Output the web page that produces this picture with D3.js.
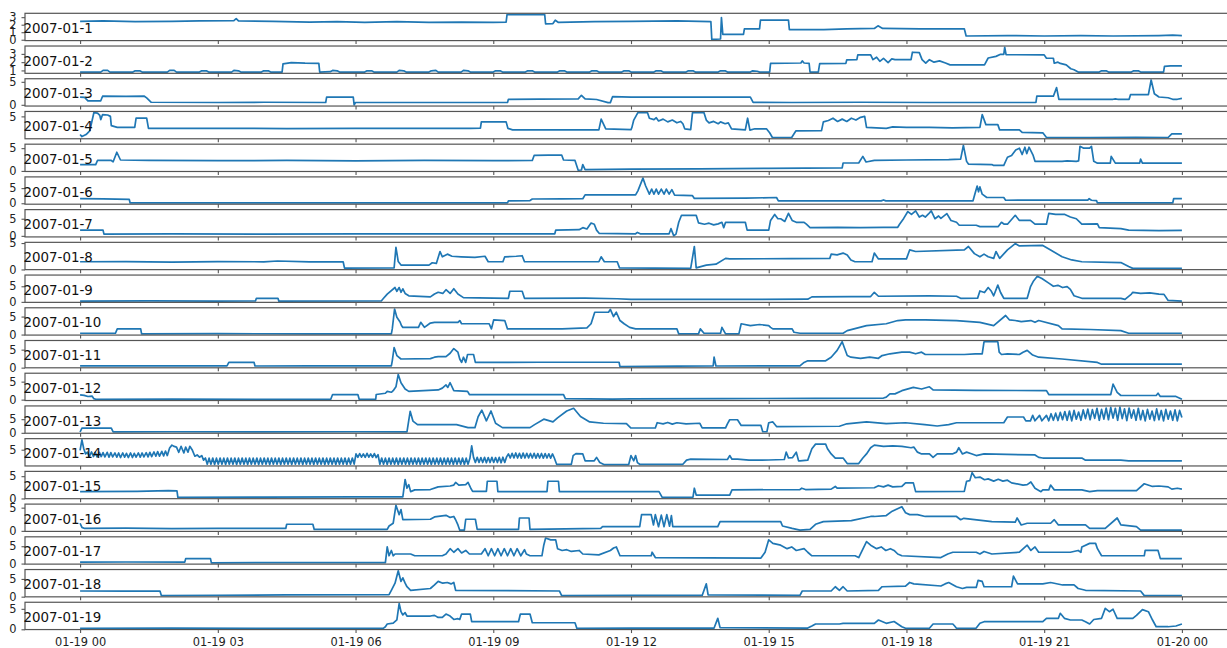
<!DOCTYPE html>
<html>
<head>
<meta charset="utf-8">
<script src="https://cdn.jsdelivr.net/npm/d3@7"></script>
<style>
  html, body { margin: 0; padding: 0; background: #fff; }
  svg { display: block; }
</style>
</head>
<body>
<svg id="chart" width="1227" height="648"></svg>
<script>
// Global active power (kW) for each day, as [hour of day, kW] readings.
const dayLabels = ["2007-01-1","2007-01-2","2007-01-3","2007-01-4","2007-01-5","2007-01-6","2007-01-7",
  "2007-01-8","2007-01-9","2007-01-10","2007-01-11","2007-01-12","2007-01-13","2007-01-14",
  "2007-01-15","2007-01-16","2007-01-17","2007-01-18","2007-01-19"];

const day01 = [[0,2.45],[0.5,2.5],[1.2,2.4],[2,2.45],[2.6,2.5],[3.35,2.55],[3.4,2.8],[3.45,2.5],[4.2,2.45],[5,2.35],[5.6,2.4],[6.2,2.3],[6.9,2.4],[7.6,2.3],[8.3,2.35],[9,2.3],[9.28,2.35],[9.3,3.35],[10.12,3.35],[10.14,2.1],[10.3,2.15],[10.35,2.6],[10.42,2.3],[11.2,2.4],[12,2.45],[13,2.5],[13.74,2.4],[13.76,0.05],[13.95,0.1],[13.97,2.95],[14,0.7],[14.45,0.7],[14.47,1.45],[14.8,1.45],[14.82,2.6],[15.43,2.6],[15.45,1.35],[16.2,1.35],[16.7,1.45],[17.3,1.5],[17.38,1.85],[17.48,1.5],[18.3,1.45],[19.26,1.45],[19.3,0.5],[20.2,0.55],[21,0.5],[21.8,0.55],[22.5,0.5],[23.5,0.55],[23.8,0.6],[24,0.55]];

const day02 = [[0,0.8],[0.45,0.8],[0.5,1],[0.6,1],[0.65,0.8],[1.15,0.8],[1.2,0.95],[1.3,0.95],[1.35,0.8],[1.9,0.8],[1.95,1],[2.05,1],[2.1,0.8],[2.6,0.8],[2.65,0.95],[2.75,0.95],[2.8,0.8],[3.3,0.8],[3.35,1],[3.45,0.95],[3.5,0.8],[3.95,0.8],[4,0.95],[4.1,0.95],[4.15,0.8],[4.4,0.8],[4.42,1.8],[4.6,1.95],[4.9,1.88],[5.2,1.85],[5.22,0.8],[5.45,0.85],[5.5,1],[5.6,0.95],[5.65,0.8],[6.2,0.8],[6.25,0.95],[6.35,0.95],[6.4,0.8],[6.9,0.8],[6.95,1],[7.05,0.95],[7.1,0.8],[7.6,0.8],[7.65,0.95],[7.75,1],[7.8,0.8],[8.3,0.8],[8.35,1],[8.45,0.95],[8.5,0.8],[9,0.8],[9.05,0.95],[9.15,0.95],[9.2,0.8],[9.7,0.8],[9.75,0.95],[9.85,0.95],[9.9,0.8],[10.4,0.8],[10.45,0.95],[10.55,0.95],[10.6,0.8],[11.1,0.8],[11.15,0.95],[11.25,0.95],[11.3,0.8],[11.8,0.8],[11.85,0.95],[11.95,0.95],[12,0.8],[12.5,0.8],[12.55,0.95],[12.65,0.95],[12.7,0.8],[13.2,0.8],[13.25,0.95],[13.35,0.95],[13.4,0.8],[13.9,0.8],[13.95,0.95],[14.05,0.95],[14.1,0.8],[14.6,0.8],[14.65,0.95],[14.75,0.9],[14.8,0.8],[15.02,0.8],[15.04,1.85],[15.7,1.9],[15.73,2.15],[15.77,1.9],[15.88,1.85],[15.9,0.8],[16.08,0.8],[16.11,1.82],[16.68,1.85],[16.7,2.28],[16.92,2.3],[16.94,2.88],[17.22,2.88],[17.27,2.3],[17.35,2.6],[17.42,2.1],[17.5,2.45],[17.6,1.95],[17.68,2.4],[17.75,2.3],[18.1,2.3],[18.13,3.2],[18.28,3.15],[18.34,2.3],[18.42,1.87],[18.5,2.3],[18.6,2],[18.72,2.15],[18.85,1.9],[18.95,1.67],[19.7,1.67],[19.78,2.5],[19.95,2.7],[20.05,2.95],[20.12,2.95],[20.14,3.8],[20.17,2.9],[21,2.88],[21.05,2.47],[21.2,2.47],[21.22,1.87],[21.3,2],[21.35,1.85],[21.48,1.67],[21.58,1.2],[21.65,1.08],[21.74,0.8],[22.2,0.8],[22.25,0.95],[22.35,0.95],[22.4,0.8],[22.9,0.8],[22.95,0.95],[23.05,0.95],[23.1,0.8],[23.6,0.8],[23.62,1.48],[23.75,1.56],[24,1.56]];

const day03 = [[0,1.66],[0.1,1.6],[0.17,0.87],[0.45,0.87],[0.49,1.87],[1,1.85],[1.4,1.87],[1.45,1.5],[1.55,0.55],[3,0.5],[4,0.55],[5.35,0.5],[5.37,1.66],[5.95,1.66],[5.97,0],[6,0.5],[7,0.5],[9.31,0.5],[9.33,1.2],[10,1.25],[10.85,1.3],[10.92,2.07],[11,1.3],[11.25,1.15],[11.5,0.47],[11.55,0.47],[11.6,1.8],[12,1.66],[14.6,1.66],[14.66,0.53],[15.5,0.5],[17,0.55],[18.5,0.5],[20.82,0.5],[20.84,1.87],[21.2,1.87],[21.27,3.73],[21.32,1.2],[22.5,1.2],[22.55,1.3],[22.6,1.2],[22.85,1.2],[22.88,2.2],[23.27,2.2],[23.33,5.4],[23.4,2.4],[23.5,1.7],[23.7,1.53],[23.8,1.2],[23.9,1.2],[24,1.4]];

const day04 = [[0,1.05],[0.04,0.6],[0.13,1.05],[0.21,1.83],[0.3,5.8],[0.38,5.7],[0.43,5.2],[0.45,4.3],[0.49,5.4],[0.6,5.3],[0.66,5],[0.68,3],[0.81,2.6],[1.19,2.6],[1.22,4.6],[1.45,4.6],[1.49,2.38],[3,2.4],[4.5,2.35],[6,2.4],[7.5,2.38],[8.5,2.4],[8.72,2.45],[8.74,3.8],[9.28,3.8],[9.32,2.38],[9.42,2.07],[10.5,2.05],[11.3,2.07],[11.35,4.4],[11.45,2.3],[12,2.1],[12.02,2.6],[12.06,4.2],[12.15,5.8],[12.36,5.8],[12.4,4.6],[12.5,4.3],[12.55,4.7],[12.6,4],[12.7,4.4],[12.8,3.8],[12.9,4.2],[13,3.6],[13.08,3.9],[13.13,3.4],[13.17,2.3],[13.3,2.1],[13.34,5.8],[13.59,5.8],[13.64,4.2],[13.7,3.6],[13.8,3.9],[13.9,3.4],[13.95,3.8],[14.05,3.4],[14.12,3.6],[14.19,2.3],[14.49,2.07],[14.54,4.6],[14.59,2],[14.7,2.3],[14.95,2.3],[15.02,1.43],[15.08,0.4],[15.5,0.4],[15.59,1.83],[16.15,1.9],[16.19,3.8],[16.3,4.1],[16.4,4.6],[16.5,3.9],[16.6,4.4],[16.7,3.9],[16.8,4.6],[16.9,4.2],[17,4.8],[17.09,5],[17.13,2.6],[17.56,2.4],[17.7,2.7],[18,2.6],[18.5,2.6],[19,2.5],[19.6,2.6],[19.65,5.4],[19.73,3.2],[19.99,3.2],[20.03,2.07],[20.46,2.07],[20.52,1.5],[20.97,1.43],[21.05,0.4],[22,0.4],[23,0.45],[23.7,0.4],[23.78,1.2],[24,1.2]];

const day05 = [[0,1.4],[0.34,1.4],[0.38,2.3],[0.68,2.3],[0.72,2],[0.8,4.1],[0.88,2.4],[1.5,2.3],[3,2.25],[4.5,2.3],[6,2.2],[7.5,2.3],[9,2.25],[9.85,2.3],[9.89,3.4],[10.2,3.45],[10.49,3.5],[10.53,2.4],[10.78,2.3],[10.85,0.15],[10.92,0.2],[10.95,1.4],[11,0.3],[12,0.4],[13.5,0.45],[15,0.55],[16.6,0.65],[16.62,1.74],[16.96,1.74],[17.05,3.2],[17.12,1.96],[17.3,2.3],[18,2.4],[18.92,2.5],[19.18,2.6],[19.24,5.6],[19.31,2.1],[19.35,1.5],[19.86,1.4],[19.9,1.2],[20.12,1.2],[20.2,3],[20.29,3.4],[20.38,4.6],[20.46,5],[20.52,3.6],[20.58,5.2],[20.62,3.8],[20.67,5.2],[20.76,3.4],[20.8,2.1],[21.39,2.1],[21.5,2.2],[21.7,2.1],[21.75,2.2],[21.78,5.4],[21.86,5],[21.99,5],[22.03,5.4],[22.08,2.1],[22.16,1.7],[22.44,1.7],[22.46,3.2],[22.55,1.7],[23.08,1.7],[23.1,2.6],[23.14,1.7],[24,1.7]];

const day06 = [[0,1.5],[0.5,1.45],[1.07,1.3],[1.09,0.1],[2,0.15],[4,0.1],[6,0.15],[8,0.1],[9.31,0.15],[9.33,0.77],[9.8,0.9],[9.85,1.4],[10.5,1.45],[10.95,1.5],[11,2.77],[12.1,2.75],[12.15,4.1],[12.26,8.3],[12.32,5.7],[12.4,3],[12.45,4.7],[12.5,3],[12.55,4.7],[12.6,3],[12.66,4.7],[12.72,3],[12.77,4.7],[12.83,3],[12.89,4.5],[12.95,2.7],[13.34,2.5],[13.38,1.6],[14.5,1.7],[15.17,1.9],[15.21,0.8],[17.45,0.8],[17.5,1.1],[17.55,0.8],[19.45,0.8],[19.48,2.5],[19.54,5.7],[19.57,3.8],[19.6,5.4],[19.65,3],[19.75,1.9],[20.12,1.9],[20.16,1],[21.95,1.05],[21.98,1.5],[22.03,1],[22.14,0.9],[22.16,0.1],[23.8,0.1],[23.82,1.5],[24,1.5]];

const day07 = [[0,1.66],[0.5,1.66],[0.52,0.5],[2,0.55],[4,0.5],[6,0.6],[8,0.55],[10.34,0.6],[10.36,1.66],[10.87,1.8],[10.95,2.4],[11.04,2],[11.13,3.75],[11.2,3.4],[11.25,1.66],[11.31,0.7],[12.1,0.6],[12.14,1],[12.2,0.6],[12.83,0.6],[12.87,2.1],[12.93,0.05],[12.98,0.5],[13.04,3.96],[13.1,6],[13.42,6],[13.47,3.8],[13.6,3.4],[13.7,3.7],[13.8,3.2],[13.9,3.5],[13.98,3.96],[14.02,2.4],[14.06,3.96],[14.49,3.96],[14.53,1.66],[15,1.66],[15.04,4.5],[15.13,6.25],[15.2,5],[15.26,5],[15.35,4.2],[15.43,6.56],[15.51,4.5],[15.6,3.96],[15.77,3.96],[15.82,3.4],[15.9,2.4],[16.5,2.5],[17,2.4],[17.5,2.5],[17.81,2.5],[17.85,3.4],[17.94,5.1],[18.03,7.1],[18.11,6.25],[18.2,7.3],[18.28,5.5],[18.35,6],[18.41,5.5],[18.48,6.4],[18.54,7.3],[18.62,5],[18.7,5.8],[18.75,5.1],[18.88,6.5],[18.97,4.5],[19.09,3.96],[19.15,3.1],[19.52,3.1],[19.6,2.7],[20,2.7],[20.07,3.96],[20.13,3.4],[20.2,3.4],[20.37,6],[20.46,4.5],[20.7,4.5],[20.8,3.4],[21.05,3.4],[21.1,6.56],[21.25,6.25],[21.45,6.25],[21.57,5.5],[21.7,5],[21.82,3.4],[22.16,3.5],[22.2,2.4],[22.67,2.1],[22.84,1.66],[23.5,1.55],[24,1.6]];

const day08 = [[0,1.46],[1,1.5],[2,1.4],[3,1.5],[4,1.45],[4.3,1.6],[5,1.45],[5.73,1.46],[5.76,0.25],[6.84,0.28],[6.88,4.2],[6.93,1.5],[6.99,0.83],[7.6,0.83],[7.67,1.27],[7.76,1.15],[7.84,3.4],[7.89,2.4],[8,2.9],[8.1,2.5],[8.3,2.4],[8.6,2.3],[8.82,2.5],[8.89,1.46],[9.21,1.46],[9.25,2.4],[9.5,2.5],[9.63,2.6],[9.68,1.46],[11.3,1.46],[11.35,2.4],[11.42,1.46],[11.7,1.46],[11.75,0.3],[13.3,0.22],[13.38,4.35],[13.42,0.3],[13.64,0.83],[13.85,1],[14.06,2.1],[14.15,2],[15.5,2.05],[16.33,2.1],[16.36,2.9],[16.49,2.75],[16.62,3.1],[16.71,2.75],[16.79,1.8],[16.88,1.46],[17.25,1.46],[17.3,3.1],[17.39,2],[18,2],[18.07,3.7],[18.2,3.4],[19.26,3.7],[19.35,4.35],[19.48,3],[19.6,2.4],[19.69,2.9],[19.78,2.4],[19.9,2.1],[19.95,3.4],[20.03,2.1],[20.2,3.7],[20.37,4.9],[20.46,4.45],[20.97,4.55],[21.14,3.7],[21.39,2.4],[21.6,1.8],[21.82,1.46],[22.67,1.3],[22.84,0.55],[22.93,0.2],[24,0.22]];

const day09 = [[0,0.24],[1.5,0.3],[3,0.24],[3.82,0.3],[3.84,1.15],[4.31,1.15],[4.33,0.24],[6.56,0.3],[6.61,1.15],[6.69,2.5],[6.86,4.6],[6.9,3.4],[6.95,4.6],[6.99,3.07],[7.03,4.2],[7.08,2.7],[7.16,1.95],[7.63,1.6],[7.72,2.5],[7.8,3.07],[7.9,2.7],[7.97,3.9],[8.06,2.7],[8.14,4.2],[8.23,2.5],[8.35,1.37],[9.33,1.15],[9.36,3.4],[9.63,3.4],[9.68,1.15],[11,1.2],[11.7,1],[12,0.8],[14,0.8],[15.85,0.85],[15.94,1.6],[16.8,1.65],[17.22,1.7],[17.3,3.07],[17.39,1.8],[18.5,1.9],[19.09,1.8],[19.18,1.15],[19.55,1.2],[19.6,3.5],[19.7,3],[19.78,4.6],[19.85,3.4],[19.9,1.95],[19.99,5.36],[20.05,3],[20.12,1.15],[20.63,1.15],[20.7,4.8],[20.76,6.5],[20.85,8.2],[20.95,7.5],[21.1,6],[21.2,5],[21.3,5.3],[21.4,4.6],[21.5,4.9],[21.57,4],[21.65,1.95],[21.82,1.15],[22.67,1.1],[22.76,0.8],[22.9,2.5],[22.93,3.07],[23.1,2.7],[23.3,2.9],[23.5,2.5],[23.61,2.4],[23.7,0.47],[24,0.24]];

const day10 = [[0,0.37],[0.77,0.37],[0.81,1.57],[1.32,1.57],[1.34,0.2],[3,0.25],[5,0.2],[6.78,0.2],[6.8,1.57],[6.85,7.1],[6.9,4.8],[6.97,3.5],[7,2.5],[7.03,2],[7.37,2],[7.42,3.4],[7.5,2],[7.63,3.2],[7.72,3.4],[8.23,3.4],[8.27,3.9],[8.31,3],[8.91,3],[8.96,1.57],[9.01,4.1],[9.25,3.9],[9.31,1.57],[10.5,1.6],[11.04,1.85],[11.13,3],[11.21,6.2],[11.51,6.2],[11.55,7],[11.62,5],[11.68,6.2],[11.76,3.9],[11.85,3],[11.97,2],[12.1,1.57],[13,1.57],[13.04,0.2],[13.47,0.2],[13.51,1.57],[13.59,0.37],[13.95,0.37],[13.98,2],[14.06,0.2],[14.35,0.2],[14.4,3],[14.6,2.5],[14.8,2.8],[15,2.5],[15.04,2],[15.09,1.57],[15.51,1.57],[15.55,0.65],[15.68,0.37],[16.62,0.37],[16.71,1.1],[17.13,2.5],[17.56,3],[17.81,3.9],[17.98,4.1],[18.41,4.1],[19.09,3.9],[19.6,3.4],[19.9,2.5],[20.16,5.3],[20.24,4.1],[20.37,3.9],[20.5,3.6],[20.71,3.9],[20.8,3.4],[20.88,3.9],[21.31,2.5],[21.39,1.57],[22,1.4],[22.67,1.1],[22.84,0.37],[24,0.37]];

const day11 = [[0,0.5],[1.5,0.5],[3.2,0.5],[3.24,1.45],[3.79,1.45],[3.81,0.45],[5,0.5],[6.78,0.5],[6.8,1.9],[6.84,5.6],[6.9,3.36],[6.99,2.4],[7.63,2.5],[7.72,2.9],[7.8,3.07],[7.97,3.07],[8.06,4],[8.14,5.3],[8.23,4.3],[8.27,2.4],[8.31,1.45],[8.35,2.9],[8.4,1.45],[8.44,3.65],[8.57,3.65],[8.61,1.45],[10,1.5],[11.74,1.5],[11.76,0.3],[13,0.4],[13.79,0.45],[13.81,2.9],[13.85,0.45],[15.68,0.5],[15.77,1.45],[15.85,1.9],[16.24,1.9],[16.36,2.9],[16.49,4.8],[16.6,7.2],[16.71,3.36],[16.79,2.9],[17,2.6],[17.2,2.9],[17.39,2.6],[17.47,3.36],[17.64,3.85],[17.9,4.3],[18.07,4.3],[18.2,3.85],[18.33,4.3],[18.41,3.65],[19.26,3.65],[19.5,3.8],[19.65,3.85],[19.69,7.2],[19.99,7.2],[20.02,4.3],[20.07,3.65],[20.2,3.85],[20.46,3.65],[20.54,4.3],[20.63,4.8],[20.75,3.5],[20.88,2.9],[21.39,2.4],[22.16,1.45],[22.25,0.96],[24,0.96]];

const day12 = [[0,1.34],[0.09,1.2],[0.17,0.88],[0.26,1],[0.3,0.27],[0.34,0.1],[2,0.12],[4,0.1],[5.46,0.12],[5.5,1.42],[6.05,1.42],[6.08,0.1],[6.44,0.1],[6.45,1.42],[6.65,1.78],[6.69,2.3],[6.78,2.05],[6.82,2.5],[6.88,3.57],[6.93,7],[6.99,4.7],[7.08,2.95],[7.16,2.3],[7.8,2.7],[7.89,3.2],[7.97,4.1],[8.01,3.4],[8.06,4.7],[8.14,2.5],[8.44,2.3],[8.48,1.42],[10.53,1.42],[10.57,0.27],[11.6,0.15],[12,0.2],[14,0.3],[16,0.35],[17.5,0.44],[17.56,0.7],[17.64,1.6],[17.75,1.6],[17.9,2.5],[18.15,3.4],[18.33,2.95],[18.5,3.57],[18.58,2.7],[19.5,2.6],[21.05,2.5],[21.1,1.42],[22.45,1.42],[22.5,4.3],[22.59,2.05],[22.67,1.15],[23.44,1.15],[23.48,1.78],[23.53,0.88],[23.87,0.88],[24,0.1]];

const day13 = [[0,0.3],[0.04,1.7],[0.68,1.7],[0.72,0.35],[2,0.4],[4,0.35],[6,0.4],[7.12,0.35],[7.19,7.9],[7.25,4.3],[7.35,3],[8.2,3],[8.45,1.9],[8.6,1.9],[8.67,5.9],[8.75,8.3],[8.85,4.4],[8.95,8],[9.05,3.5],[9.2,1.9],[9.8,1.9],[9.9,3],[10.1,5],[10.3,4],[10.4,5.5],[10.6,8],[10.75,9],[10.9,6],[11.1,4],[11.4,3.5],[11.9,3.4],[12,1.76],[12.53,1.76],[12.57,3.7],[12.7,3.3],[12.8,3.8],[12.9,3.2],[13,3.7],[13.2,3.3],[13.5,3.5],[13.55,1.8],[14.06,1.8],[14.1,3.3],[14.15,4.8],[14.32,4.8],[14.4,2.7],[14.83,2.7],[14.87,0.4],[14.96,0.4],[15,3.7],[15.09,4],[15.17,2.3],[16.54,2.4],[16.7,3.3],[17.13,4],[17.56,3.4],[17.98,3.7],[18.4,3],[18.67,2.5],[18.92,3],[19.09,3.7],[20.12,3.7],[20.2,5.8],[20.55,5.8],[20.6,4.4],[20.7,4.4],[20.75,6.4],[20.8,4.4],[20.9,6.4],[20.95,4.4],[21.05,6.4],[21.1,4.4],[21.15,7],[21.2,4.6],[21.25,7.2],[21.3,4.5],[21.35,7.5],[21.4,4.8],[21.45,7.8],[21.5,4.6],[21.55,8],[21.6,4.4],[21.65,8.2],[21.7,5],[21.75,7.6],[21.8,4.6],[21.85,8.4],[21.9,5.2],[21.95,8.7],[22,4.8],[22.05,8.5],[22.1,5.3],[22.15,9],[22.2,4.6],[22.25,8.6],[22.3,5],[22.35,9.1],[22.4,4.8],[22.45,9.3],[22.5,5.4],[22.55,9],[22.6,4.6],[22.65,9.4],[22.7,5.2],[22.75,8.8],[22.8,4.5],[22.85,9.1],[22.9,5.4],[22.95,8.4],[23,4.6],[23.05,9],[23.1,4.8],[23.15,8.2],[23.2,4.4],[23.25,8.6],[23.3,5],[23.35,8],[23.4,4.5],[23.45,8.8],[23.5,4.8],[23.55,8.2],[23.6,4.4],[23.65,8.6],[23.7,5],[23.75,8],[23.8,4.6],[23.85,8.4],[23.9,4.4],[23.95,8.2],[24,5.6]];

const day14 = [[0,4.8],[0.04,8],[0.08,5.3],[0.12,3.7],[0.16,4.25],[0.2,2.9],[0.25,4.3],[0.29,2.9],[0.33,4.2],[0.37,2.8],[0.42,4.2],[0.46,2.9],[0.5,4.1],[0.54,2.8],[0.59,4.2],[0.63,2.7],[0.67,4.1],[0.71,2.8],[0.76,4],[0.8,2.7],[0.84,4],[0.88,2.6],[0.93,4],[0.97,2.7],[1.01,3.9],[1.05,2.6],[1.1,4],[1.14,2.6],[1.18,3.9],[1.22,2.7],[1.27,4],[1.31,2.7],[1.35,4],[1.39,2.8],[1.44,4.1],[1.48,2.8],[1.52,4.2],[1.56,2.9],[1.61,4.3],[1.65,3],[1.69,4.4],[1.73,3],[1.78,4.5],[1.82,3.1],[1.86,4.6],[1.9,3.2],[1.95,5.5],[2,6.4],[2.05,6],[2.1,5.8],[2.15,4.2],[2.2,6.05],[2.26,4],[2.3,5.8],[2.35,4.25],[2.39,6.05],[2.44,5],[2.5,3],[2.55,3.4],[2.6,2.7],[2.65,3.2],[2.69,1.8],
  [2.73,2.45],[2.77,0.55],[2.81,2.4],[2.85,0.55],[2.89,2.45],[2.93,0.5],[2.97,2.4],[3.01,0.55],[3.05,2.45],[3.09,0.55],[3.13,2.4],[3.17,0.5],[3.21,2.45],[3.25,0.55],[3.29,2.4],[3.33,0.55],[3.37,2.45],[3.41,0.5],[3.45,2.4],[3.49,0.55],[3.53,2.45],[3.57,0.55],[3.61,2.4],[3.65,0.5],[3.69,2.45],[3.73,0.55],[3.77,2.4],[3.81,0.55],[3.85,2.45],[3.89,0.5],[3.93,2.4],[3.97,0.55],[4.01,2.45],[4.05,0.55],[4.09,2.4],[4.13,0.5],[4.17,2.45],[4.21,0.55],[4.25,2.4],[4.29,0.55],[4.33,2.45],[4.37,0.5],[4.41,2.4],[4.45,0.55],[4.49,2.45],[4.53,0.55],[4.57,2.4],[4.61,0.5],[4.65,2.45],[4.69,0.55],[4.73,2.4],[4.77,0.55],[4.81,2.45],[4.85,0.5],[4.89,2.4],[4.93,0.55],[4.97,2.45],[5.01,0.55],[5.05,2.4],[5.09,0.5],[5.13,2.45],[5.17,0.55],[5.21,2.4],[5.25,0.55],[5.29,2.45],[5.33,0.5],[5.37,2.4],[5.41,0.55],[5.45,2.45],[5.49,0.55],[5.53,2.4],[5.57,0.5],[5.61,2.45],[5.65,0.55],[5.69,2.4],[5.73,0.55],[5.77,2.45],[5.81,0.5],[5.85,2.4],[5.89,0.55],[5.93,2.45],[5.97,0.6],
  [6.01,3.7],[6.05,2.65],[6.09,3.8],[6.13,2.7],[6.17,3.7],[6.21,2.65],[6.25,3.9],[6.29,2.7],[6.33,3.7],[6.37,2.65],[6.41,3.8],[6.45,2.6],[6.49,3.5],
  [6.53,0.55],[6.57,2.45],[6.61,0.55],[6.65,2.4],[6.69,0.5],[6.73,2.45],[6.77,0.55],[6.81,2.4],[6.85,0.55],[6.89,2.45],[6.93,0.5],[6.97,2.4],[7.01,0.55],[7.05,2.45],[7.09,0.55],[7.13,2.4],[7.17,0.5],[7.21,2.45],[7.25,0.55],[7.29,2.4],[7.33,0.55],[7.37,2.45],[7.41,0.5],[7.45,2.4],[7.49,0.55],[7.53,2.45],[7.57,0.55],[7.61,2.4],[7.65,0.5],[7.69,2.45],[7.73,0.55],[7.77,2.4],[7.81,0.55],[7.85,2.45],[7.89,0.5],[7.93,2.4],[7.97,0.55],[8.01,2.45],[8.05,0.55],[8.09,2.4],[8.13,0.5],[8.17,2.45],[8.21,0.55],[8.25,2.4],[8.29,0.55],[8.33,2.45],[8.37,0.5],[8.41,2.4],[8.45,0.55],[8.49,2.3],[8.53,6.2],[8.57,2.65],
  [8.61,1.06],[8.65,2.65],[8.69,1.1],[8.73,2.6],[8.77,1.06],[8.81,2.65],[8.85,1],[8.89,2.6],[8.93,1.06],[8.97,2.65],[9.01,1.1],[9.05,2.6],[9.09,1.06],[9.13,2.65],[9.17,1],[9.21,2.7],[9.25,1.1],[9.29,2.8],[9.33,3.7],
  [9.37,2.45],[9.41,3.9],[9.45,2.5],[9.49,4],[9.53,2.45],[9.57,3.9],[9.61,2.4],[9.65,3.95],[9.69,2.45],[9.73,3.9],[9.77,2.5],[9.81,3.85],[9.85,2.45],[9.89,3.9],[9.93,2.4],[9.97,3.8],[10.01,2.45],[10.05,3.85],[10.09,2.4],[10.13,3.8],[10.17,2.45],[10.21,3.75],[10.25,2.4],[10.29,3.7],[10.33,2.45],
  [10.38,0.53],[10.7,0.5],[10.74,3.2],[10.8,3.8],[10.95,3.7],[11,1.6],[11.2,1.6],[11.25,2.65],[11.32,1.06],[11.42,0.4],[11.95,0.45],[12,3.2],[12.06,1.6],[12.1,3.2],[12.14,1.06],[12.19,0.53],[13.13,0.53],[13.21,1.8],[13.3,2.1],[14.1,2],[14.15,3.2],[14.2,2.1],[14.32,2.1],[14.57,1.8],[14.66,1.8],[15,1.85],[15.34,2],[15.38,4.25],[15.43,2.5],[15.52,2.6],[15.6,4.25],[15.65,1.6],[15.68,1.6],[15.85,1.8],[15.94,5.3],[16.02,6.7],[16.24,6.7],[16.28,5.3],[16.36,3.7],[16.45,2.45],[16.62,2.45],[16.71,0.74],[16.96,0.74],[17.05,2.45],[17.13,3.7],[17.22,5.6],[17.3,6.4],[17.5,6],[17.7,6.2],[17.9,6],[18.1,5.6],[18.16,5.8],[18.24,4.25],[18.33,3.7],[18.5,3.7],[18.58,2.65],[18.67,3.7],[19,3.7],[19.09,4.25],[19.14,5.6],[19.22,3.7],[19.31,4.25],[19.43,3.7],[19.52,3.2],[19.69,3.7],[20.8,3.4],[20.88,2.65],[20.97,2.45],[21.82,2.45],[21.9,1.8],[22.67,1.8],[22.84,1.6],[24,1.6]];

const day15 = [[0,1.53],[1.24,1.6],[1.92,1.77],[2.11,1.7],[2.13,0.23],[4,0.3],[6,0.35],[7.03,0.37],[7.08,4.26],[7.12,2.3],[7.16,3.1],[7.2,1.53],[7.29,1.93],[7.63,2],[7.8,2.6],[8.06,2.8],[8.14,3],[8.18,3.6],[8.25,3],[8.4,3.1],[8.45,3.6],[8.51,2.3],[8.55,1.6],[8.85,1.6],[8.87,3.86],[9.08,3.86],[9.1,1.53],[10.17,1.53],[10.19,3.86],[10.42,3.86],[10.44,1.53],[12.61,1.53],[12.68,0.23],[13.35,0.3],[13.38,2.3],[13.42,0.77],[14.15,0.77],[14.2,1.93],[15.68,2],[15.72,2.3],[15.8,2],[16.36,2.1],[16.45,2.7],[16.49,2.3],[17.3,2.4],[17.39,2.86],[17.5,2.6],[17.6,3],[17.7,2.6],[17.9,2.7],[17.98,3.5],[18.15,3.5],[18.2,1.53],[19.26,1.6],[19.31,3.86],[19.38,4],[19.43,5.8],[19.5,4.65],[19.6,4.8],[19.7,4.2],[19.78,4.4],[19.9,3.9],[20,4.3],[20.1,3.9],[20.2,4.1],[20.29,3.5],[20.54,3],[20.63,3.1],[20.71,3.7],[20.8,2.3],[20.93,1.53],[20.97,1.93],[21.1,1.93],[21.14,3],[21.22,1.93],[21.82,1.93],[21.99,1.53],[22.16,1.77],[23.01,1.77],[23.18,3.3],[23.36,2.7],[23.5,2.8],[23.7,2.6],[23.78,2.1],[23.9,2.3],[24,2.1]];

const day16 = [[0,1.64],[0.04,0.75],[0.1,0.52],[1,0.6],[2,0.5],[3,0.55],[4.48,0.52],[4.5,1.42],[5.07,1.42],[5.1,0.3],[6.69,0.3],[6.73,1.05],[6.82,1.64],[6.88,5.5],[6.95,3.5],[6.99,4.6],[7.03,2.4],[7.63,2.5],[7.72,3],[7.97,3.35],[8.06,2.9],[8.14,3.1],[8.18,2.4],[8.23,1.27],[8.27,0.15],[8.37,0.15],[8.4,2.5],[8.61,2.5],[8.65,0.3],[9.55,0.3],[9.57,2.77],[9.78,2.77],[9.8,0.3],[11.34,0.52],[11.38,0.9],[12.19,0.9],[12.23,3.5],[12.44,3.5],[12.49,1.27],[12.53,3.5],[12.6,0.9],[12.66,3.4],[12.72,0.9],[12.78,3.5],[12.84,1],[12.88,3.3],[12.91,0.9],[13.89,0.9],[13.94,2],[15.26,2],[15.3,1.05],[15.51,0.52],[15.68,0.15],[15.9,0.3],[16.02,1.42],[16.19,2],[16.8,2.2],[17.22,3.1],[17.3,3.1],[17.56,3.3],[17.69,4.24],[17.9,5.2],[17.98,3.9],[18.07,3.5],[18.24,3.5],[18.41,3.1],[19.09,3.1],[19.18,2.4],[19.25,2.7],[19.86,2],[20.37,1.9],[20.41,2.77],[20.5,1.27],[20.63,1.64],[21.14,1.64],[21.22,2.4],[21.31,1.27],[21.9,1.27],[21.99,0.52],[22.33,0.52],[22.59,2.77],[22.67,1.27],[23.01,0.9],[23.1,0.15],[24,0.15]];

const day17 = [[0,0.41],[1,0.45],[2.28,0.41],[2.3,1.43],[2.84,1.43],[2.86,0.2],[4,0.3],[5.5,0.25],[6.65,0.3],[6.69,4.8],[6.73,2.25],[6.78,3.78],[6.82,2.25],[6.86,2.76],[7.2,2.76],[7.29,2.25],[7.89,2.25],[7.97,2.76],[8.06,4.3],[8.14,3.27],[8.23,4.3],[8.31,3.07],[8.4,3.78],[8.48,2.76],[8.74,2.76],[8.82,4.3],[8.89,2.25],[8.96,4.3],[9.03,2.25],[9.1,4.3],[9.17,2.25],[9.24,4.3],[9.31,2.25],[9.38,4.3],[9.45,2.25],[9.52,4.3],[9.6,2.25],[9.68,4],[9.72,2.76],[9.8,2.25],[10.06,2.25],[10.1,5.3],[10.14,7.36],[10.25,6.85],[10.36,6.85],[10.4,4.3],[10.5,3.78],[10.6,4],[10.7,3.5],[10.87,3.78],[10.95,2.76],[11.3,2.5],[11.55,3.78],[11.62,4.5],[11.68,4.8],[11.76,2.25],[12.44,2.25],[12.46,3.27],[12.53,1.74],[14.83,1.6],[14.92,3.27],[15,6.85],[15.09,5.83],[15.26,5.3],[15.4,4.3],[15.5,4.8],[15.6,3.78],[15.77,4.3],[15.85,3.27],[15.94,2.25],[16.88,2.25],[16.96,1.74],[17.13,6.34],[17.22,5.3],[17.35,4.3],[17.45,4.8],[17.55,3.78],[17.65,4.3],[17.73,3.78],[17.81,2.76],[17.9,2.25],[18.75,1.74],[18.9,2.76],[19.01,3.27],[19.52,3.27],[19.6,2.76],[19.69,3.5],[19.86,2.76],[20.46,3.27],[20.63,5.3],[20.71,3.78],[20.8,4.8],[20.88,3.27],[21.57,3.27],[21.74,3.78],[21.8,3.27],[21.82,4.8],[21.99,5.83],[22.12,5.83],[22.16,4.3],[22.25,2.25],[23.18,2.25],[23.2,3.78],[23.48,3.78],[23.53,1.43],[24,1.43]];

const day18 = [[0,1.6],[1,1.55],[1.74,1.6],[1.77,0.3],[3,0.4],[4.5,0.5],[6.73,0.6],[6.78,1.8],[6.86,3.8],[6.93,7.3],[6.99,4.3],[7.03,5.3],[7.08,3.8],[7.12,2.8],[7.2,1.8],[7.63,2.3],[7.72,3.3],[7.8,4.3],[7.9,3.8],[8,4],[8.08,3.6],[8.14,4],[8.18,1.8],[10.44,1.6],[10.49,0.3],[12,0.35],[13.55,0.35],[13.64,3.6],[13.68,0.5],[15.68,0.35],[15.73,1.6],[16.36,1.6],[16.45,2.8],[16.54,1.8],[16.62,2.8],[16.71,1.6],[17.39,1.8],[17.47,2.8],[17.98,3],[18.07,4],[18.16,3.6],[18.75,3],[18.84,3.6],[18.92,4],[19.09,2.8],[19.22,2.3],[19.31,2.6],[19.52,2.6],[19.56,4.6],[19.65,4.3],[19.69,2.8],[20.29,2.8],[20.33,5.8],[20.42,3.6],[20.97,3.6],[21.14,4],[21.4,3.3],[21.65,3.3],[21.74,2.3],[21.9,1.8],[23.1,1.6],[23.18,0.3],[24,0.3]];

const day19 = [[0,0.24],[2,0.3],[4,0.25],[6.61,0.3],[6.65,0.63],[6.69,1.3],[6.82,1.5],[6.9,2.3],[6.95,6.3],[6.99,4.3],[7.03,3.5],[7.08,4.05],[7.12,3.24],[7.63,3.24],[7.72,3.4],[7.8,2.9],[7.89,2.9],[7.97,3.73],[8.06,3.24],[8.14,2.4],[8.23,2.6],[8.27,2.4],[8.31,3.73],[8.5,3.73],[8.53,1.86],[9.55,1.86],[9.59,3.73],[9.8,3.73],[9.85,1.6],[10.78,1.6],[10.82,0.24],[12,0.3],[13.81,0.3],[13.89,2.68],[13.94,0.4],[15.85,0.3],[15.94,0.8],[16.02,1.3],[16.54,1.3],[16.62,1.46],[17.3,1.46],[17.39,2.27],[17.56,1.46],[17.73,1.9],[17.9,0.63],[17.98,0.24],[18.5,0.24],[18.58,1.3],[19.01,1.3],[19.05,0.8],[19.09,0.24],[19.52,0.3],[19.6,1.46],[19.69,1.86],[20.97,1.86],[21.05,2.68],[21.31,2.68],[21.35,3.9],[21.44,2.68],[21.57,2.27],[21.82,2.27],[21.9,1.86],[21.99,1.3],[22.08,2.4],[22.25,2.68],[22.33,5.1],[22.42,4.3],[22.5,4.9],[22.59,2.68],[22.93,2.68],[23.01,3.4],[23.14,4.8],[23.27,4.3],[23.36,2.27],[23.44,0.63],[23.7,0.63],[23.87,0.8],[24,1.3]];

const days = [day01,day02,day03,day04,day05,day06,day07,day08,day09,day10,
  day11,day12,day13,day14,day15,day16,day17,day18,day19];

// Hours of the day that carry an x tick.
const hourTicks = [0,3,6,9,12,15,18,21,24];

// ---- layout ----
const svg = d3.select("#chart");
const axLeft = 25, axRight = 1237;       // axes run past the right edge of the page
const top0 = 13.3, pitch = 32.72, ph = 27.3;
const lineColor = "#1f77b4", spineColor = "#555", textColor = "#222";
const font = "'DejaVu Sans', Verdana, sans-serif";

const t0 = Date.UTC(2007, 0, 19);
const toDate = h => new Date(t0 + h * 3600e3);
const span = 24 * 3600e3, pad = span * 0.05;
const x = d3.scaleUtc()
  .domain([new Date(t0 - pad), new Date(t0 + span + pad)])
  .range([axLeft, axRight]);
const fmt = d3.utcFormat("%m-%d %H");

svg.append("rect").attr("width", 1227).attr("height", 648).attr("fill", "#fff");

const defs = svg.append("defs");

days.forEach((data, i) => {
  const top = top0 + i * pitch;
  const g = svg.append("g").attr("transform", `translate(0,${top})`);

  // y range padded by 5% of the data span, like the default autoscale
  const [mn, mx] = d3.extent(data, d => d[1]);
  const r = mx - mn;
  const y = d3.scaleLinear().domain([mn - 0.05 * r, mx + 0.05 * r]).range([ph, 0]);
  const [lo, hi] = y.domain();
  const step = (hi - lo) < 4.5 ? 1 : 5;
  const yTicks = d3.range(Math.ceil(lo / step) * step, hi + 1e-9, step);

  defs.append("clipPath").attr("id", `clip${i}`)
    .append("rect").attr("x", axLeft).attr("y", 0).attr("width", axRight - axLeft).attr("height", ph);

  const line = d3.line()
    .x(d => x(toDate(d[0])))
    .y(d => y(d[1]));

  g.append("path")
    .datum(data)
    .attr("clip-path", `url(#clip${i})`)
    .attr("fill", "none")
    .attr("stroke", lineColor)
    .attr("stroke-width", 1.7)
    .attr("stroke-linejoin", "round")
    .attr("d", line);

  // x axis ticks on every panel, labels only on the last one
  const xAxis = d3.axisBottom(x)
    .tickValues(hourTicks.map(toDate))
    .tickSize(3.5)
    .tickPadding(4.5)
    .tickFormat(i === days.length - 1 ? fmt : () => "");
  const gx = g.append("g").attr("transform", `translate(0,${ph})`).call(xAxis);
  gx.select(".domain").remove();

  const yAxis = d3.axisLeft(y).tickValues(yTicks).tickSize(3.5).tickPadding(5).tickFormat(d3.format("d"));
  const gy = g.append("g").attr("transform", `translate(${axLeft},0)`).call(yAxis);
  gy.select(".domain").remove();

  [gx, gy].forEach(ax => {
    ax.selectAll("line").attr("stroke", spineColor).attr("stroke-width", 1.1);
    ax.selectAll("text").attr("fill", textColor).style("font-family", font).style("font-size", "11.4px");
  });

  g.append("rect")
    .attr("x", axLeft).attr("y", 0)
    .attr("width", axRight - axLeft).attr("height", ph)
    .attr("fill", "none").attr("stroke", spineColor).attr("stroke-width", 1.2);

  g.append("text")
    .attr("x", 23.5)
    .attr("y", ph / 2 + 6)
    .attr("fill", "#111")
    .style("font-family", font)
    .style("font-size", "13.4px")
    .text(dayLabels[i]);
});
</script>
</body>
</html>
